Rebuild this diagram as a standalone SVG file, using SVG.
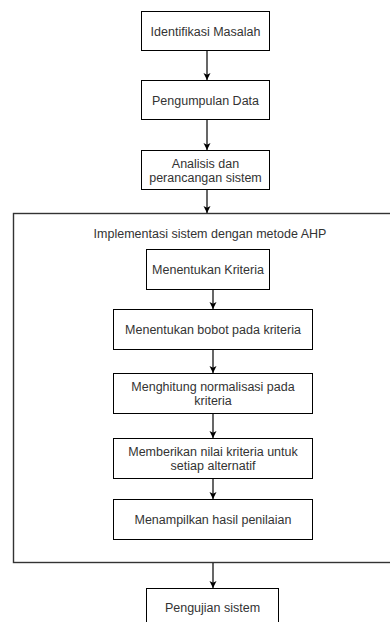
<svg xmlns="http://www.w3.org/2000/svg" width="390" height="622" viewBox="0 0 390 622">
  <defs>
    <marker id="arrow" markerWidth="8" markerHeight="8" refX="7" refY="4" orient="auto" markerUnits="userSpaceOnUse">
      <path d="M0,0.5 L7,4 L0,7.5 L1.8,4 Z" fill="#000"/>
    </marker>
    <style>
      .box { fill: #fff; stroke: #000; stroke-width: 1; }
      .frame { fill: #fff; stroke: #333; stroke-width: 1.4; }
      .lbl { font-family: "Liberation Sans", Arial, sans-serif; font-size: 12.5px; fill: #333; text-anchor: middle; }
      .edge { stroke: #000; stroke-width: 1.2; fill: none; marker-end: url(#arrow); }
    </style>
  </defs>

  <rect width="390" height="622" fill="#fff"/>

  <!-- container for the AHP stage -->
  <g id="ahp-stage">
    <rect class="frame" x="13.5" y="213.5" width="380" height="349"/>
    <text class="lbl" x="210" y="237.5">Implementasi sistem dengan metode AHP</text>
  </g>

  <g id="identifikasi">
    <rect class="box" x="141.5" y="11.5" width="128" height="39"/>
    <text class="lbl" x="205.5" y="35.5">Identifikasi Masalah</text>
  </g>

  <g id="pengumpulan">
    <rect class="box" x="141.5" y="80.5" width="128" height="39"/>
    <text class="lbl" x="205.5" y="104.5">Pengumpulan Data</text>
  </g>

  <g id="analisis">
    <rect class="box" x="141.5" y="150.5" width="128" height="39"/>
    <text class="lbl" x="205.5" y="167.5">Analisis dan</text>
    <text class="lbl" x="205.5" y="181.5">perancangan sistem</text>
  </g>

  <g id="kriteria">
    <rect class="box" x="146.5" y="249.5" width="123" height="40"/>
    <text class="lbl" x="208" y="273.5">Menentukan Kriteria</text>
  </g>

  <g id="bobot">
    <rect class="box" x="113.5" y="309.5" width="199" height="40"/>
    <text class="lbl" x="213" y="333.5">Menentukan bobot pada kriteria</text>
  </g>

  <g id="normalisasi">
    <rect class="box" x="113.5" y="373.5" width="199" height="40"/>
    <text class="lbl" x="213" y="390.5">Menghitung normalisasi pada</text>
    <text class="lbl" x="213" y="404.5">kriteria</text>
  </g>

  <g id="nilai">
    <rect class="box" x="113.5" y="438.5" width="199" height="40"/>
    <text class="lbl" x="213" y="456">Memberikan nilai kriteria untuk</text>
    <text class="lbl" x="213" y="470">setiap alternatif</text>
  </g>

  <g id="hasil">
    <rect class="box" x="113.5" y="499.5" width="199" height="40"/>
    <text class="lbl" x="213" y="523.5">Menampilkan hasil penilaian</text>
  </g>

  <g id="pengujian">
    <rect class="box" x="146.5" y="588.5" width="132" height="40"/>
    <text class="lbl" x="212.5" y="612">Pengujian sistem</text>
  </g>

  <!-- connectors -->
  <g id="connectors">
    <line class="edge" x1="207" y1="51" x2="207" y2="80"/>
    <line class="edge" x1="207" y1="120" x2="207" y2="150"/>
    <line class="edge" x1="207" y1="190" x2="207" y2="213"/>
    <line class="edge" x1="213" y1="290" x2="213" y2="309"/>
    <line class="edge" x1="213" y1="350" x2="213" y2="373"/>
    <line class="edge" x1="213" y1="414" x2="213" y2="438"/>
    <line class="edge" x1="213" y1="479" x2="213" y2="499"/>
    <line class="edge" x1="213" y1="563" x2="213" y2="588"/>
  </g>
</svg>
